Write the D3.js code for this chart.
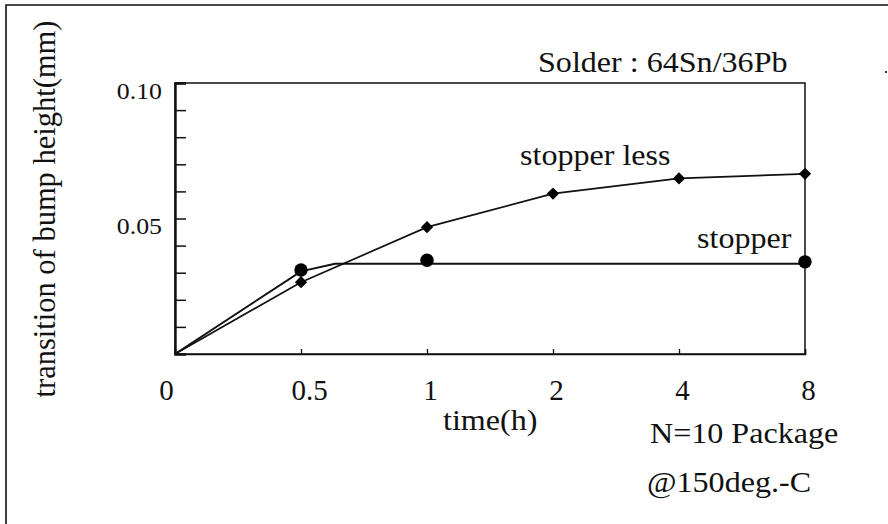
<!DOCTYPE html>
<html>
<head>
<meta charset="utf-8">
<script src="https://cdn.jsdelivr.net/npm/d3@7"></script>
<style>
  html, body { margin: 0; padding: 0; background: #fff; }
  svg { display: block; font-family: "Liberation Serif", "Times New Roman", serif; }
</style>
</head>
<body>
<svg id="chart" width="888" height="524"></svg>
<script>
// time categories (h), evenly spaced on the chart
var timeLabels = [ '0', '0.5', '1', '2', '4', '8' ];

// stopper less: diamonds on every category
var stopperLessIdx = [ 0, 1, 2, 3, 4, 5 ];
var stopperLessVal = [ 0, 0.0265, 0.0468, 0.0592, 0.0648, 0.0665 ];

// stopper: measured points (circles)
var stopperIdx = [ 1, 2, 5 ];
var stopperVal = [ 0.0310, 0.0346, 0.0340 ];

// stopper: fitted curve (levels off just after 0.5h)
var stopperCurveIdx = [ 0, 1, 1.27, 5 ];
var stopperCurveVal = [ 0, 0.0305, 0.0333, 0.0333 ];

var yTickValues = [ 0.01, 0.02, 0.03, 0.04, 0.05, 0.06, 0.07, 0.08, 0.09, 0.10 ];
var yTickLabels = { '0.05': '0.05', '0.1': '0.10' };

var svg = d3.select( '#chart' );

var plotL = 175, plotR = 805, plotT = 83, plotB = 354;

var x = d3.scaleLinear()
	.domain( [ 0, timeLabels.length - 1 ] )
	.range( [ plotL, plotR ] );

var y = d3.scaleLinear()
	.domain( [ 0, 0.1 ] )
	.range( [ plotB, plotT ] );

// outer frame of the figure (top and left edges only)
svg.append( 'path' )
	.attr( 'd', 'M6,524 L6,5 L888,5' )
	.style( 'fill', 'none' )
	.style( 'stroke', '#111' )
	.style( 'stroke-width', 1.6 );

// plot box
svg.append( 'rect' )
	.attr( 'x', plotL )
	.attr( 'y', plotT )
	.attr( 'width', plotR - plotL )
	.attr( 'height', plotB - plotT )
	.style( 'fill', 'none' )
	.style( 'stroke', '#111' )
	.style( 'stroke-width', 1.5 );

// y axis, ticks pointing inward
var yAxis = svg.append( 'g' )
	.attr( 'transform', 'translate(' + plotL + ',0)' )
	.call( d3.axisLeft( y )
		.tickValues( yTickValues )
		.tickSize( -11 )
		.tickPadding( 13 )
		.tickFormat( function( d ) { return yTickLabels[ String( +d.toFixed( 2 ) ) ] || ''; } ) );

yAxis.select( '.domain' ).style( 'stroke', '#111' ).style( 'stroke-width', 2.4 );
yAxis.selectAll( '.tick line' ).style( 'stroke', '#111' ).style( 'stroke-width', 1.5 );
yAxis.selectAll( '.tick text' )
	.attr( 'x', 0 )
	.attr( 'dy', 0 )
	.attr( 'transform', 'translate(-13,15) scale(1.1,1)' )
	.style( 'font-family', '"Liberation Serif", serif' )
	.style( 'font-size', '23.5px' )
	.style( 'fill', '#111' );

// x axis, small ticks pointing up
var xAxis = svg.append( 'g' )
	.attr( 'transform', 'translate(0,' + plotB + ')' )
	.call( d3.axisBottom( x )
		.tickValues( d3.range( timeLabels.length ) )
		.tickSize( -5 )
		.tickPadding( 40 )
		.tickFormat( function( d ) { return timeLabels[ d ]; } ) );

xAxis.select( '.domain' ).style( 'stroke', '#111' ).style( 'stroke-width', 1.5 );
xAxis.selectAll( '.tick line' ).style( 'stroke', '#111' ).style( 'stroke-width', 1.3 );
xAxis.selectAll( '.tick text' )
	.attr( 'y', 46 )
	.attr( 'dy', 0 )
	.attr( 'dx', function( d ) { return d === 0 ? -9 : ( d === 1 ? 8 : 3 ); } )
	.style( 'font-family', '"Liberation Serif", serif' )
	.style( 'font-size', '29px' )
	.style( 'fill', '#111' );

// curves
var line = d3.line()
	.x( function( d ) { return x( d[ 0 ] ); } )
	.y( function( d ) { return y( d[ 1 ] ); } );

svg.append( 'path' )
	.datum( d3.zip( stopperLessIdx, stopperLessVal ) )
	.attr( 'd', line )
	.style( 'fill', 'none' )
	.style( 'stroke', '#111' )
	.style( 'stroke-width', 1.7 );

svg.append( 'path' )
	.datum( d3.zip( stopperCurveIdx, stopperCurveVal ) )
	.attr( 'd', line )
	.style( 'fill', 'none' )
	.style( 'stroke', '#111' )
	.style( 'stroke-width', 2 );

// markers
svg.selectAll( 'path.diamond' )
	.data( d3.zip( stopperLessIdx, stopperLessVal ).slice( 1 ) )
	.enter().append( 'path' )
	.attr( 'class', 'diamond' )
	.attr( 'd', d3.symbol( d3.symbolDiamond2, 95 ) )
	.attr( 'transform', function( d ) { return 'translate(' + x( d[ 0 ] ) + ',' + y( d[ 1 ] ) + ')'; } )
	.style( 'fill', '#000' );

svg.selectAll( 'circle.dot' )
	.data( d3.zip( stopperIdx, stopperVal ) )
	.enter().append( 'circle' )
	.attr( 'class', 'dot' )
	.attr( 'cx', function( d ) { return x( d[ 0 ] ); } )
	.attr( 'cy', function( d ) { return y( d[ 1 ] ); } )
	.attr( 'r', 6.7 )
	.style( 'fill', '#000' );

// texts
var texts = [
	{ t: 'Solder : 64Sn/36Pb', x: 538, y: 72 },
	{ t: 'stopper less', x: 520, y: 165 },
	{ t: 'stopper', x: 697, y: 248 },
	{ t: 'time(h)', x: 443, y: 430 },
	{ t: 'N=10 Package', x: 650, y: 443 },
	{ t: '@150deg.-C', x: 647, y: 492 }
];

svg.selectAll( 'text.note' )
	.data( texts )
	.enter().append( 'text' )
	.attr( 'class', 'note' )
	.attr( 'transform', function( d ) { return 'translate(' + d.x + ',' + d.y + ') scale(1.07,1)'; } )
	.style( 'font-size', '30px' )
	.style( 'fill', '#111' )
	.text( function( d ) { return d.t; } );

svg.append( 'text' )
	.attr( 'transform', 'translate(55,209) rotate(-90)' )
	.attr( 'text-anchor', 'middle' )
	.style( 'font-size', '30.5px' )
	.style( 'fill', '#111' )
	.text( 'transition of bump height(mm)' );

// speck at the right edge of the scan
svg.append( 'rect' )
	.attr( 'x', 885 ).attr( 'y', 71 )
	.attr( 'width', 2 ).attr( 'height', 2 )
	.style( 'fill', '#333' );
</script>
</body>
</html>
